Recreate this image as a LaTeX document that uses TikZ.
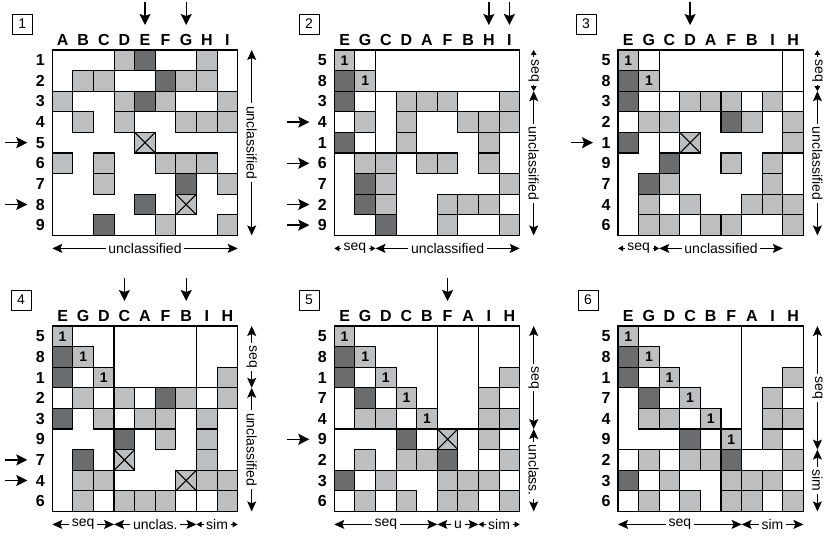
\documentclass[tikz,border=0pt]{standalone}
\usepackage{fontspec}
\setmainfont{Liberation Sans}
\usetikzlibrary{arrows.meta}

\definecolor{cellgray}{RGB}{189,190,192}
\definecolor{celldark}{RGB}{107,108,110}

\def\cs{20.6}

\tikzset{
  cellbox/.style={draw=black,line width=1.1pt},
  lightcell/.style={cellbox,fill=cellgray},
  darkcell/.style={cellbox,fill=celldark},
  gridframe/.style={draw=black,line width=1.3pt},
  blockline/.style={draw=black,line width=1.3pt},
  headlab/.style={inner sep=0pt,font=\fontsize{16}{16}\selectfont\bfseries},
  onelab/.style={inner sep=0pt,font=\fontsize{14}{14}\selectfont\bfseries},
  stepnum/.style={draw,line width=0.8pt,minimum width=20pt,minimum height=20pt,inner sep=0pt,font=\fontsize{14}{14}\selectfont},
  pickarrow/.style={-{Stealth[length=11pt,width=11pt,inset=2pt]},line width=1.4pt},
  spanlab/.style={inner sep=2.5pt,font=\fontsize{14}{14}\selectfont},
  bigtip/.style={-{Stealth[length=10pt,width=9pt,inset=2pt]},line width=1pt},
  smalltip/.style={-{Triangle[length=5pt,width=5.5pt]},line width=1pt},
}

% one cell: panel, column, row, kind (0 empty, 1 light, 2 dark, 3 crossed, 4 light with 1)
\newcommand\dsmcell[4]{%
  \ifcase#4\relax
  \or \draw[lightcell] ({(#2-1)*\cs},{(#3-1)*\cs}) rectangle ++(\cs,\cs);
  \or \draw[darkcell] ({(#2-1)*\cs},{(#3-1)*\cs}) rectangle ++(\cs,\cs);
  \or \draw[lightcell] ({(#2-1)*\cs},{(#3-1)*\cs}) rectangle ++(\cs,\cs);
      \draw[cellbox] ({(#2-1)*\cs},{(#3-1)*\cs}) -- ++(\cs,\cs) ++(0,-\cs) -- ++(-\cs,\cs);
  \or \draw[lightcell] ({(#2-1)*\cs},{(#3-1)*\cs}) rectangle ++(\cs,\cs);
      \node[onelab] (#1one#2) at ({(#2-0.5)*\cs},{(#3-0.5)*\cs}) {1};
  \fi}

% labels, cells and frame of one matrix
\newcommand\dsmgrid[4]{%
  \foreach \cl [count=\j] in {#2}
    \node[headlab] (#1c\j) at ({(\j-0.5)*\cs},-10.5) {\cl};
  \foreach \rl [count=\i] in {#3}
    \node[headlab] (#1r\i) at (-12,{(\i-0.5)*\cs}) {\rl};
  \foreach \cells [count=\i] in {#4}
    \foreach \v [count=\j] in \cells
      \dsmcell{#1}{\j}{\i}{\v};
  \draw[gridframe] (0,0) rectangle ({9*\cs},{9*\cs});
}

\newcommand\botspan[5]{%
  \node[spanlab] (#1) at ({(#2+#3)/2*\cs},{9*\cs+13}) {#4};
  \draw[#5] (#1.west) -- ({#2*\cs},{9*\cs+13});
  \draw[#5] (#1.east) -- ({#3*\cs},{9*\cs+13});
}
\newcommand\sidespan[5]{%
  \node[spanlab,rotate=-90] (#1) at ({9*\cs+14},{(#2+#3)/2*\cs}) {#4};
  \draw[#5] (#1.west) -- ({9*\cs+14},{#2*\cs});
  \draw[#5] (#1.east) -- ({9*\cs+14},{#3*\cs});
}
\newcommand\colpick[1]{\draw[pickarrow] ({(#1-0.5)*\cs},-48) -- ({(#1-0.5)*\cs},-25);}
\newcommand\rowpick[1]{\draw[pickarrow] (-47,{(#1-0.5)*\cs}) -- (-25,{(#1-0.5)*\cs});}

\begin{document}
\begin{tikzpicture}[x=1pt,y=-1pt]
\useasboundingbox (0,0) rectangle (826,535);

% step 1
\begin{scope}[shift={(52.3,50)}]
\node[stepnum] (p1num) at (-30,-26) {1};
\dsmgrid{p1}{A,B,C,D,E,F,G,H,I}{1,2,3,4,5,6,7,8,9}{%
{0,0,0,1,2,0,0,1,0},%
{0,1,1,0,0,2,1,1,0},%
{1,0,0,1,2,1,0,0,1},%
{0,1,0,1,0,0,1,1,1},%
{0,0,0,0,3,0,0,0,0},%
{1,0,1,0,0,1,1,1,0},%
{0,0,1,0,0,0,2,0,1},%
{0,0,0,0,2,0,3,0,0},%
{0,0,2,0,0,1,0,0,1}}
\colpick{5} \colpick{7}
\rowpick{5} \rowpick{8}
\sidespan{p1su}{0}{9}{unclassified}{bigtip}
\botspan{p1bu}{0}{9}{unclassified}{bigtip}
\end{scope}

% step 2
\begin{scope}[shift={(334.3,50)}]
\node[stepnum] (p2num) at (-25.3,-26) {2};
\dsmgrid{p2}{E,G,C,D,A,F,B,H,I}{5,8,3,4,1,6,7,2,9}{%
{4,0,0,0,0,0,0,0,0},%
{2,4,0,0,0,0,0,0,0},%
{2,0,0,1,1,1,0,0,1},%
{0,1,0,1,0,0,1,1,1},%
{2,0,0,1,0,0,0,1,0},%
{0,1,1,0,1,1,0,1,0},%
{0,2,1,0,0,0,0,0,1},%
{0,2,1,0,0,1,1,1,0},%
{0,0,2,0,0,1,0,0,1}}
\draw[blockline] (0,{2*\cs}) -- ({9*\cs},{2*\cs});
\draw[blockline] ({2*\cs},0) -- ({2*\cs},{9*\cs});
\colpick{8} \colpick{9}
\rowpick{4} \rowpick{6} \rowpick{8} \rowpick{9}
\sidespan{p2ss}{0}{2}{seq}{smalltip}
\sidespan{p2su}{2}{9}{unclassified}{bigtip}
\botspan{p2bs}{0}{2}{seq}{smalltip}
\botspan{p2bu}{2}{9}{unclassified}{bigtip}
\end{scope}

% step 3
\begin{scope}[shift={(618,50)}]
\node[stepnum] (p3num) at (-32,-26) {3};
\dsmgrid{p3}{E,G,C,D,A,F,B,I,H}{5,8,3,2,1,9,7,4,6}{%
{4,0,0,0,0,0,0,0,0},%
{2,4,0,0,0,0,0,0,0},%
{2,0,0,1,1,1,0,1,0},%
{0,1,1,0,0,2,1,0,1},%
{2,0,0,3,0,0,0,0,1},%
{0,0,2,0,0,1,0,1,0},%
{0,2,1,0,0,0,0,1,0},%
{0,1,0,1,0,0,1,1,1},%
{0,1,1,0,1,1,0,0,1}}
\draw[blockline] (0,{2*\cs}) -- ({9*\cs},{2*\cs});
\draw[blockline] ({2*\cs},0) -- ({2*\cs},{9*\cs});
\draw[blockline] ({8*\cs},0) -- ({8*\cs},{9*\cs});
\colpick{4}
\rowpick{5}
\sidespan{p3ss}{0}{2}{seq}{smalltip}
\sidespan{p3su}{2}{9}{unclassified}{bigtip}
\botspan{p3bs}{0}{2}{seq}{smalltip}
\botspan{p3bu}{2}{8}{unclassified}{bigtip}
\end{scope}

% step 4
\begin{scope}[shift={(52.3,326)}]
\node[stepnum] (p4num) at (-31.3,-26) {4};
\dsmgrid{p4}{E,G,D,C,A,F,B,I,H}{5,8,1,2,3,9,7,4,6}{%
{4,0,0,0,0,0,0,0,0},%
{2,4,0,0,0,0,0,0,0},%
{2,0,4,0,0,0,0,0,1},%
{0,1,0,1,0,2,1,0,1},%
{2,0,1,0,1,1,0,1,0},%
{0,0,0,2,0,1,0,1,0},%
{0,2,0,3,0,0,0,1,0},%
{0,1,1,0,0,0,3,1,1},%
{0,1,0,1,1,1,0,0,1}}
\draw[blockline] (0,{3*\cs}) -- ({9*\cs},{3*\cs});
\draw[blockline] ({3*\cs},0) -- ({3*\cs},{9*\cs});
\draw[blockline] ({7*\cs},0) -- ({7*\cs},{9*\cs});
\colpick{4} \colpick{7}
\rowpick{7} \rowpick{8}
\sidespan{p4ss}{0}{3}{seq}{bigtip}
\sidespan{p4su}{3}{9}{unclassified}{bigtip}
\botspan{p4bs}{0}{3}{seq}{bigtip}
\botspan{p4bu}{3}{7}{unclas.}{bigtip}
\botspan{p4bi}{7}{9}{sim}{smalltip}
\end{scope}

% step 5
\begin{scope}[shift={(334.3,326)}]
\node[stepnum] (p5num) at (-25.3,-26) {5};
\dsmgrid{p5}{E,G,D,C,B,F,A,I,H}{5,8,1,7,4,9,2,3,6}{%
{4,0,0,0,0,0,0,0,0},%
{2,4,0,0,0,0,0,0,0},%
{2,0,4,0,0,0,0,0,1},%
{0,2,0,4,0,0,0,1,0},%
{0,1,1,0,4,0,0,1,1},%
{0,0,0,2,0,3,0,1,0},%
{0,1,0,1,1,2,0,0,1},%
{2,0,1,0,0,1,1,1,0},%
{0,1,0,1,0,1,1,0,1}}
\draw[blockline] (0,{5*\cs}) -- ({9*\cs},{5*\cs});
\draw[blockline] ({5*\cs},0) -- ({5*\cs},{9*\cs});
\draw[blockline] ({7*\cs},0) -- ({7*\cs},{9*\cs});
\colpick{6}
\rowpick{6}
\sidespan{p5ss}{0}{5}{seq}{bigtip}
\sidespan{p5su}{5}{9}{unclass.}{bigtip}
\botspan{p5bs}{0}{5}{seq}{bigtip}
\botspan{p5bu}{5}{7}{u}{bigtip}
\botspan{p5bi}{7}{9}{sim}{smalltip}
\end{scope}

% step 6
\begin{scope}[shift={(618,326)}]
\node[stepnum] (p6num) at (-30,-26) {6};
\dsmgrid{p6}{E,G,D,C,B,F,A,I,H}{5,8,1,7,4,9,2,3,6}{%
{4,0,0,0,0,0,0,0,0},%
{2,4,0,0,0,0,0,0,0},%
{2,0,4,0,0,0,0,0,1},%
{0,2,0,4,0,0,0,1,0},%
{0,1,1,0,4,0,0,1,1},%
{0,0,0,2,0,4,0,1,0},%
{0,1,0,1,1,2,0,0,1},%
{2,0,1,0,0,1,1,1,0},%
{0,1,0,1,0,1,1,0,1}}
\draw[blockline] (0,{6*\cs}) -- ({9*\cs},{6*\cs});
\draw[blockline] ({6*\cs},0) -- ({6*\cs},{9*\cs});
\sidespan{p6ss}{0}{6}{seq}{bigtip}
\sidespan{p6si}{6}{9}{sim}{bigtip}
\botspan{p6bs}{0}{6}{seq}{bigtip}
\botspan{p6bi}{6}{9}{sim}{bigtip}
\end{scope}
\end{tikzpicture}
\end{document}
